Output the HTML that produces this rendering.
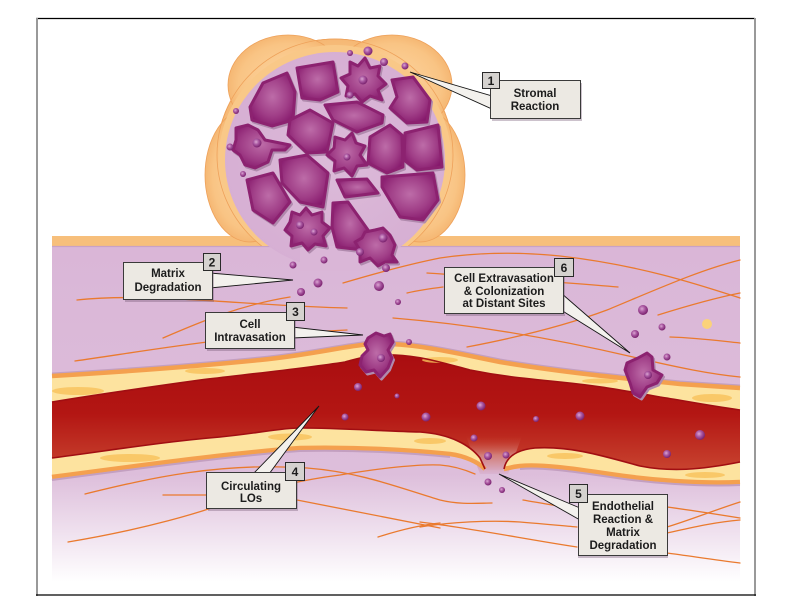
<!DOCTYPE html>
<html><head><meta charset="utf-8"><style>
html,body{margin:0;padding:0;background:#fff}
svg{display:block}
.t{font-family:"Liberation Sans",sans-serif;font-weight:bold;font-size:11.5px;fill:#1c1c1c;text-anchor:middle}
.n{font-family:"Liberation Sans",sans-serif;font-weight:bold;font-size:12px;fill:#1c1c1c;text-anchor:middle}
</style></head><body>
<svg width="792" height="612" viewBox="0 0 792 612" xmlns="http://www.w3.org/2000/svg">
<defs>
<linearGradient id="tis" x1="0" y1="247" x2="0" y2="582" gradientUnits="userSpaceOnUse">
<stop offset="0" stop-color="#dab6d7"/><stop offset="0.68" stop-color="#ddbedb"/><stop offset="1" stop-color="#ffffff"/>
</linearGradient>
<linearGradient id="lum" x1="0" y1="345" x2="0" y2="470" gradientUnits="userSpaceOnUse">
<stop offset="0" stop-color="#a80c10"/><stop offset="0.55" stop-color="#b31613"/><stop offset="1" stop-color="#c8432f"/>
</linearGradient>
<linearGradient id="gap" x1="0" y1="436" x2="0" y2="474" gradientUnits="userSpaceOnUse">
<stop offset="0" stop-color="#c8432f" stop-opacity="0"/><stop offset="0.5" stop-color="#d58a86" stop-opacity="0.85"/><stop offset="1" stop-color="#d9b4d3"/>
</linearGradient>
<radialGradient id="cellg" cx="0.5" cy="0.45" r="0.6">
<stop offset="0" stop-color="#bd6ca8"/><stop offset="0.6" stop-color="#a03e87"/><stop offset="1" stop-color="#86196c"/>
</radialGradient>
<radialGradient id="sph" cx="0.4" cy="0.38" r="0.6">
<stop offset="0" stop-color="#dba6d2"/><stop offset="0.5" stop-color="#a856a0"/><stop offset="1" stop-color="#7c2470"/>
</radialGradient>
<radialGradient id="pet" cx="0.5" cy="0.5" r="0.55">
<stop offset="0" stop-color="#fcd7a4"/><stop offset="0.75" stop-color="#f9c484"/><stop offset="1" stop-color="#f3b06a"/>
</radialGradient>
<radialGradient id="tum" cx="0.5" cy="0.5" r="0.55">
<stop offset="0" stop-color="#dcbbd9"/><stop offset="1" stop-color="#d6aed3"/>
</radialGradient>
<clipPath id="topclip"><rect x="0" y="0" width="792" height="246"/></clipPath>
<g id="cells">
<polygon points="250,107 263,83 287,73 295,92 293,120 272,126 252,120"/>
<polygon points="297,68 333,62 338,92 320,100 302,98"/>
<polygon points="350,62 358,66 365,58 370,68 380,66 378,76 386,84 378,90 382,100 370,96 362,102 355,94 346,96 348,86 341,78 350,74"/>
<polygon points="392,80 413,77 430,100 427,122 407,123 390,108 397,97"/>
<polygon points="236,128 248,125 258,130 265,140 275,142 290,145 285,150 272,150 268,162 255,168 245,165 240,155 233,150 236,140"/>
<polygon points="290,120 310,110 333,123 327,152 307,153 288,135"/>
<polygon points="325,105 357,102 383,115 382,123 357,132 333,120"/>
<polygon points="335,137 345,140 352,133 356,143 365,146 360,155 367,165 357,166 352,176 344,168 334,171 335,161 327,155 334,148"/>
<polygon points="370,137 390,125 402,135 403,167 387,173 368,163"/>
<polygon points="405,133 438,125 442,167 417,170 404,160"/>
<polygon points="247,180 273,173 290,202 273,223 253,210"/>
<polygon points="280,160 307,155 328,173 323,207 300,202 282,183"/>
<polygon points="337,180 367,179 378,193 345,197"/>
<polygon points="382,177 433,173 438,200 423,220 400,217 382,187"/>
<polygon points="292,212 300,215 306,208 312,215 322,212 322,222 330,228 323,236 326,246 315,244 308,250 302,243 291,246 292,236 285,230 290,222"/>
<polygon points="333,203 348,202 368,230 363,250 337,247 332,227"/>
<polygon points="365,232 375,230 383,228 390,235 395,245 392,255 397,262 385,262 378,266 370,258 360,262 360,250 355,242 362,238"/>
<polygon points="368,338 376,333 384,336 390,334 393,342 388,350 392,358 388,368 380,377 374,370 366,372 360,365 362,356 368,350 365,344"/>
<polygon points="627,363 638,358 647,353 652,357 653,370 662,375 657,383 647,387 640,397 633,393 630,383 625,370"/>
</g>
</defs>

<!-- tissue -->
<rect x="52" y="246" width="688" height="337" fill="url(#tis)"/>
<rect x="52" y="236" width="688" height="10" fill="#f7bf7b"/>
<line x1="52" y1="246.5" x2="740" y2="246.5" stroke="#c8a2c5" stroke-width="1.2"/>

<!-- fibers -->
<g fill="none" stroke="#ea7a2e" stroke-width="1.3" stroke-linecap="round">
<path d="M77,300 C150,292 250,306 347,308"/>
<path d="M163,338 C200,322 240,305 290,297"/>
<path d="M75,361 C140,352 230,335 347,330"/>
<path d="M343,283 C380,272 410,264 440,258 C480,252 520,252 560,256 C640,265 700,285 740,298"/>
<path d="M407,293 C420,290 435,288 443,287"/>
<path d="M393,318 C480,325 560,340 633,357 C680,368 710,374 740,377"/>
<path d="M427,273 C500,278 560,282 618,287"/>
<path d="M467,347 C530,335 575,322 607,310 C660,288 700,270 740,260"/>
<path d="M658,315 C690,305 715,298 740,293"/>
<path d="M670,337 C700,338 720,341 740,343"/>
<path d="M85,494 C150,478 220,462 307,468 C360,472 400,488 440,500 C460,505 480,503 492,503"/>
<path d="M163,495 L207,495"/>
<path d="M297,500 C350,510 400,520 440,528"/>
<path d="M68,542 C140,530 207,512 240,497 C270,488 300,480 340,475 C380,468 420,464 440,465 C455,466 468,471 475,474"/>
<path d="M378,537 C400,530 420,525 440,523"/>
<path d="M420,527 C450,522 490,520 520,522 C545,524 565,526 577,527"/>
<path d="M420,522 C470,528 530,540 577,547"/>
<path d="M523,500 C540,503 560,506 577,510"/>
<path d="M667,507 C690,510 715,514 740,518"/>
<path d="M667,527 C690,520 715,510 740,502"/>
<path d="M667,553 C690,556 715,560 740,563"/>
<path d="M667,533 C690,528 715,522 740,520"/>
</g>

<!-- lumen -->
<path d="M52,402 C100,394 150,387 200,380 C250,374 300,369 345,362 C360,358 370,354 395,355 C420,356 440,362 470,370 C500,376 520,378 560,382 C600,386 620,390 660,397 C680,400 705,405 740,410 L740,462 C700,470 670,472 640,466 C600,455 570,446 535,448 C515,450 505,458 503,470 L484,470 L480,458 C470,445 450,434 420,432 C380,431 340,428 300,428 C280,428 260,433 220,437 C160,442 100,452 52,458 Z" fill="url(#lum)"/>
<path d="M466,436 L522,436 L508,474 L480,474 Z" fill="url(#gap)"/>

<!-- upper wall -->
<path d="M52,376 C120,372 200,366 260,360 C310,355 340,347 370,344 C410,342 450,352 500,362 C560,372 620,378 680,384 L740,388 L740,410 C705,405 680,400 660,397 C620,390 600,386 560,382 C520,378 500,376 470,370 C440,362 420,356 395,355 C370,354 360,358 345,362 C300,369 250,374 200,380 C150,387 100,394 52,402 Z" fill="#fde39f"/>
<g fill="#f7c05a" opacity="0.8">
<ellipse cx="78" cy="391" rx="26" ry="4"/>
<ellipse cx="205" cy="371" rx="20" ry="3"/>
<ellipse cx="440" cy="360" rx="18" ry="3"/>
<ellipse cx="600" cy="381" rx="18" ry="2.5"/>
<ellipse cx="712" cy="398" rx="20" ry="4"/>
</g>
<path d="M52,376 C120,372 200,366 260,360 C310,355 340,347 370,344 C410,342 450,352 500,362 C560,372 620,378 680,384 L740,388" fill="none" stroke="#c39fc0" stroke-width="2" transform="translate(0,-2.5)"/>
<path d="M52,376 C120,372 200,366 260,360 C310,355 340,347 370,344 C410,342 450,352 500,362 C560,372 620,378 680,384 L740,388" fill="none" stroke="#f4a04e" stroke-width="4.5"/>
<path d="M740,410 C705,405 680,400 660,397 C620,390 600,386 560,382 C520,378 500,376 470,370 C440,362 420,356 395,355 C370,354 360,358 345,362 C300,369 250,374 200,380 C150,387 100,394 52,402" fill="none" stroke="#a10e12" stroke-width="1.6"/>

<!-- lower wall left -->
<path d="M52,458 C100,452 160,442 220,437 C260,433 280,428 300,428 C340,428 380,431 420,432 C450,434 470,445 480,458 L485,469 C478,462 465,456 450,454 C400,449 350,447 300,448 C240,452 150,464 52,477 Z" fill="#fde39f"/>
<path d="M52,477 C150,464 240,452 300,448 C350,447 400,449 450,454 C465,456 478,462 485,469" fill="none" stroke="#f4a04e" stroke-width="4.5"/>
<path d="M52,477 C150,464 240,452 300,448 C350,447 400,449 450,454" fill="none" stroke="#c39fc0" stroke-width="2" transform="translate(0,3)"/>
<!-- lower wall right -->
<path d="M504,469 C506,458 515,450 535,448 C570,446 600,455 640,466 C670,472 700,470 740,462 L740,482 C700,484 650,480 610,474 C570,468 540,464 520,466 C510,467 506,469 504,469 Z" fill="#fde39f"/>
<path d="M740,482 C700,484 650,480 610,474 C570,468 540,464 520,466 C510,467 506,469 504,469" fill="none" stroke="#f4a04e" stroke-width="4.5"/>
<path d="M740,482 C700,484 650,480 610,474 C570,468 540,464 520,466" fill="none" stroke="#c39fc0" stroke-width="2" transform="translate(0,3)"/>
<g fill="#f7c05a" opacity="0.8">
<ellipse cx="130" cy="458" rx="30" ry="4"/>
<ellipse cx="290" cy="437" rx="22" ry="3.5"/>
<ellipse cx="430" cy="441" rx="16" ry="3"/>
<ellipse cx="565" cy="456" rx="18" ry="3"/>
<ellipse cx="705" cy="475" rx="20" ry="3"/>
</g>
<path d="M52,458 C100,452 160,442 220,437 C260,433 280,428 300,428 C340,428 380,431 420,432 C450,434 470,445 480,458 L485,469" fill="none" stroke="#a10e12" stroke-width="1.6"/>
<path d="M504,469 C506,458 515,450 535,448 C570,446 600,455 640,466 C670,472 700,470 740,462" fill="none" stroke="#a10e12" stroke-width="1.6"/>

<!-- tumor stroma -->
<g clip-path="url(#topclip)" stroke="#eea15a" stroke-width="0.8">
<ellipse cx="335" cy="155" rx="118" ry="116" fill="url(#pet)"/>
<ellipse cx="250" cy="175" rx="45" ry="67" fill="url(#pet)"/>
<ellipse cx="420" cy="175" rx="45" ry="67" fill="url(#pet)"/>
<ellipse cx="288" cy="85" rx="60" ry="50" fill="url(#pet)"/>
<ellipse cx="392" cy="85" rx="60" ry="50" fill="url(#pet)"/>
<ellipse cx="335" cy="155" rx="118" ry="116" fill="none"/>
</g>
<ellipse cx="335" cy="158" rx="116" ry="113" fill="#f9c888" clip-path="url(#topclip)"/>
<ellipse cx="335" cy="160" rx="110" ry="108" fill="url(#tum)"/>
<rect x="300" y="246" width="70" height="25" fill="#dab6d7"/>

<!-- cells -->
<use href="#cells" fill="#b08aad" stroke="#b08aad" stroke-width="3" stroke-linejoin="round" transform="translate(1.5,2)"/>
<use href="#cells" fill="url(#cellg)" stroke="#8c2270" stroke-width="3" stroke-linejoin="round"/>

<!-- spheres -->
<g fill="url(#sph)">
<circle cx="350" cy="53" r="3"/><circle cx="368" cy="51" r="4.5"/><circle cx="384" cy="62" r="4"/><circle cx="405" cy="66" r="3.5"/>
<circle cx="236" cy="111" r="3"/><circle cx="230" cy="147" r="3.5"/><circle cx="243" cy="174" r="3"/>
<circle cx="257" cy="143" r="4.5"/><circle cx="363" cy="80" r="4.5"/><circle cx="347" cy="157" r="3.5"/><circle cx="300" cy="225" r="4"/><circle cx="314" cy="232" r="3.5"/><circle cx="383" cy="238" r="4.5"/><circle cx="350" cy="95" r="3.5"/>
<circle cx="293" cy="265" r="3.5"/><circle cx="324" cy="260" r="3.5"/><circle cx="318" cy="283" r="4.5"/><circle cx="301" cy="292" r="4"/><circle cx="379" cy="286" r="5"/><circle cx="398" cy="302" r="3"/><circle cx="409" cy="342" r="3"/><circle cx="360" cy="252" r="4"/><circle cx="386" cy="268" r="4"/>
<circle cx="643" cy="310" r="5"/><circle cx="662" cy="327" r="3.5"/><circle cx="635" cy="334" r="4"/><circle cx="667" cy="357" r="3.5"/>
<circle cx="381" cy="358" r="4"/><circle cx="648" cy="375" r="4"/>
<circle cx="358" cy="387" r="4"/><circle cx="397" cy="396" r="2.5"/><circle cx="345" cy="417" r="3.5"/><circle cx="426" cy="417" r="4.5"/><circle cx="481" cy="406" r="4.5"/><circle cx="536" cy="419" r="3"/><circle cx="580" cy="416" r="4.5"/><circle cx="700" cy="435" r="5"/><circle cx="667" cy="454" r="4"/><circle cx="474" cy="438" r="3.5"/><circle cx="488" cy="456" r="4"/><circle cx="506" cy="455" r="3.5"/><circle cx="488" cy="482" r="3.5"/><circle cx="502" cy="490" r="3"/>
</g>
<circle cx="707" cy="324" r="5" fill="#fbd27a"/>

<!-- callout wedges -->
<g fill="#f3f1ed" stroke="#151515" stroke-width="0.9" stroke-linejoin="miter">
<polygon points="410,72 492,96 492,109"/>
<polygon points="293,280 210,273 210,288"/>
<polygon points="363,335 292,327 292,338"/>
<polygon points="630,353 561,293 561,310"/>
<polygon points="319,406 253,474 269,474"/>
<polygon points="499,474 580,508 580,520"/>
</g>

<!-- boxes -->
<g fill="#6e506c" opacity="0.35">
<rect x="492" y="83" width="90" height="38"/>
<rect x="125" y="265" width="89" height="37"/>
<rect x="207" y="315" width="89" height="36"/>
<rect x="446" y="270" width="119" height="46"/>
<rect x="208" y="475" width="90" height="36"/>
<rect x="578" y="497" width="90" height="61"/>
</g>
<g fill="#ece9e3" stroke="#3a3a3a" stroke-width="1">
<rect x="490.5" y="80.5" width="90" height="38"/>
<rect x="123.5" y="262.5" width="89" height="37"/>
<rect x="205.5" y="312.5" width="89" height="36"/>
<rect x="444.5" y="267.5" width="119" height="46"/>
<rect x="206.5" y="472.5" width="90" height="36"/>
<rect x="578.5" y="494.5" width="89" height="61"/>
</g>
<g fill="#d5d2cf" stroke="#2a2a2a" stroke-width="1">
<rect x="482.5" y="72.5" width="17" height="16"/>
<rect x="203.5" y="253.5" width="17" height="17"/>
<rect x="286.5" y="302.5" width="18" height="18"/>
<rect x="554.5" y="258.5" width="19" height="18"/>
<rect x="285.5" y="462.5" width="19" height="18"/>
<rect x="569.5" y="484.5" width="18" height="18"/>
</g>
<text class="n" x="491" y="85">1</text>
<text class="n" x="212" y="266.5">2</text>
<text class="n" x="295.5" y="316">3</text>
<text class="n" x="564" y="272">6</text>
<text class="n" x="295" y="476">4</text>
<text class="n" x="578.5" y="498">5</text>

<text class="t" x="535" y="97">Stromal</text>
<text class="t" x="535" y="110">Reaction</text>
<text class="t" x="168" y="277">Matrix</text>
<text class="t" x="168" y="291">Degradation</text>
<text class="t" x="250" y="328">Cell</text>
<text class="t" x="250" y="341">Intravasation</text>
<text class="t" x="504" y="282">Cell Extravasation</text>
<text class="t" x="504" y="295">&amp; Colonization</text>
<text class="t" x="504" y="307">at Distant Sites</text>
<text class="t" x="251" y="490">Circulating</text>
<text class="t" x="251" y="502">LOs</text>
<text class="t" x="623" y="510">Endothelial</text>
<text class="t" x="623" y="523">Reaction &amp;</text>
<text class="t" x="623" y="536">Matrix</text>
<text class="t" x="623" y="549">Degradation</text>

<!-- frame -->
<line x1="36" y1="18.5" x2="755" y2="18.5" stroke="#000" stroke-width="1.2"/>
<line x1="37" y1="18" x2="37" y2="596" stroke="#999" stroke-width="2"/>
<line x1="755" y1="18" x2="755" y2="596" stroke="#999" stroke-width="2"/>
<line x1="36" y1="595" x2="756" y2="595" stroke="#000" stroke-width="1.2"/>
</svg>
</body></html>
